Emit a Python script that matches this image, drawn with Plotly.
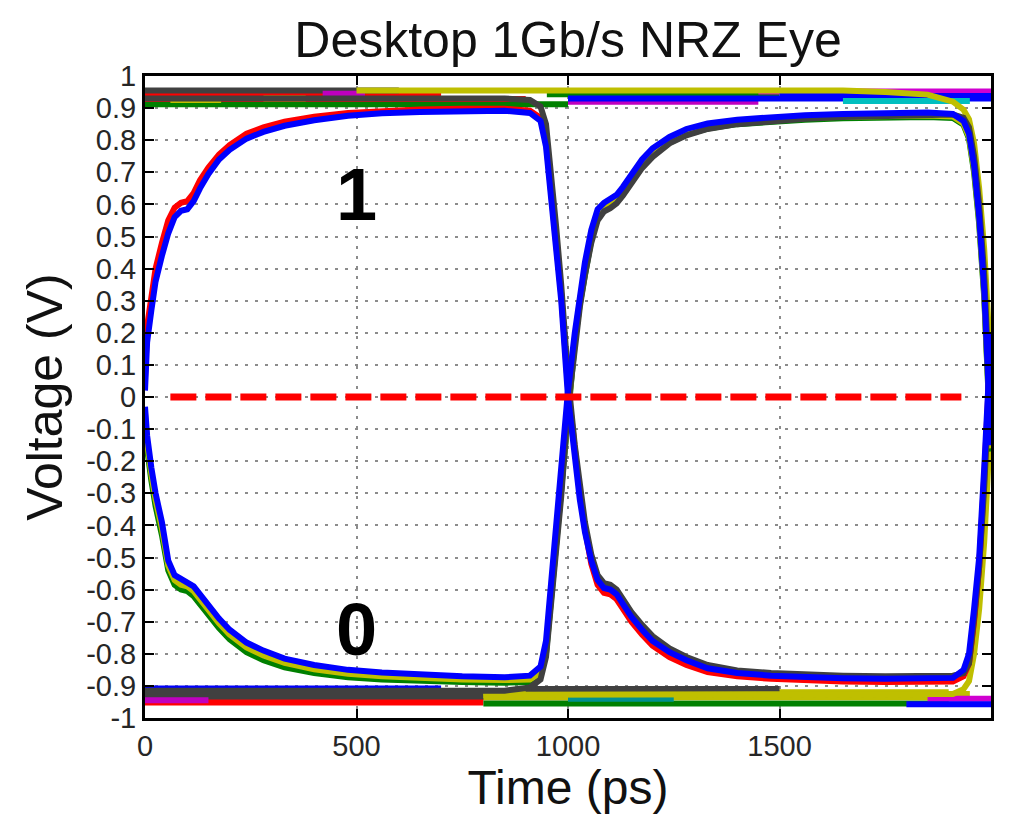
import plotly.graph_objects as go

# ---------------------------------------------------------------
# Eye-diagram data: time in ps (two unit intervals), voltage in V
# ---------------------------------------------------------------
time_ps = [0, 5, 15, 25, 40, 55, 70, 85, 100, 115,
           130, 150, 175, 200, 240, 280, 330, 400, 480, 560,
           650, 750, 850, 910, 935, 948, 960, 972, 984, 1000,
           1016, 1028, 1040, 1055, 1070, 1085, 1100, 1115, 1130, 1150,
           1175, 1200, 1240, 1280, 1330, 1400, 1480, 1560, 1650, 1750,
           1850, 1910, 1935, 1948, 1960, 1972, 1984, 2000]

# 0 -> 1 -> 0 -> 1 pattern (upper-left eye, lower-right eye)
rfr_main_v = [0.02, 0.17, 0.27, 0.36, 0.44, 0.51, 0.56, 0.58, 0.585, 0.61,
              0.65, 0.695, 0.74, 0.77, 0.805, 0.826, 0.845, 0.862, 0.876, 0.884,
              0.888, 0.89, 0.892, 0.885, 0.86, 0.78, 0.62, 0.45, 0.30, 0.0,
              -0.2, -0.32, -0.42, -0.51, -0.57, -0.595, -0.6, -0.615, -0.645, -0.685,
              -0.725, -0.76, -0.795, -0.82, -0.845, -0.86, -0.868, -0.873, -0.876, -0.878,
              -0.879, -0.875, -0.85, -0.80, -0.66, -0.50, -0.22, 0.2]
rfr_outer_v = [0.06, 0.22, 0.31, 0.40, 0.48, 0.55, 0.59, 0.605, 0.61, 0.635,
               0.675, 0.715, 0.755, 0.785, 0.82, 0.84, 0.858, 0.873, 0.885, 0.892,
               0.896, 0.898, 0.898, 0.892, 0.87, 0.80, 0.64, 0.47, 0.32, 0.03,
               -0.17, -0.30, -0.41, -0.52, -0.585, -0.61, -0.615, -0.63, -0.66, -0.70,
               -0.74, -0.775, -0.81, -0.835, -0.857, -0.87, -0.878, -0.883, -0.886, -0.888,
               -0.889, -0.886, -0.87, -0.83, -0.70, -0.53, -0.25, 0.18]

# 1 -> 0 -> 1 -> 0 pattern (lower-left eye, upper-right eye)
frf_main_v = [-0.03, -0.12, -0.22, -0.30, -0.39, -0.51, -0.555, -0.565, -0.575, -0.59,
              -0.615, -0.65, -0.69, -0.725, -0.765, -0.79, -0.815, -0.835, -0.85, -0.858,
              -0.865, -0.87, -0.873, -0.868, -0.84, -0.76, -0.58, -0.40, -0.25, 0.02,
              0.2, 0.32, 0.42, 0.52, 0.585, 0.605, 0.615, 0.63, 0.655, 0.69,
              0.74, 0.775, 0.81, 0.835, 0.852, 0.864, 0.872, 0.878, 0.882, 0.885,
              0.886, 0.882, 0.86, 0.82, 0.72, 0.56, 0.33, -0.15]
frf_mid_v = [-0.05, -0.14, -0.24, -0.32, -0.41, -0.525, -0.57, -0.585, -0.59, -0.605,
             -0.63, -0.665, -0.705, -0.74, -0.78, -0.805, -0.828, -0.848, -0.862, -0.87,
             -0.876, -0.88, -0.882, -0.88, -0.86, -0.79, -0.62, -0.44, -0.29, -0.01,
             0.18, 0.30, 0.40, 0.50, 0.57, 0.593, 0.603, 0.618, 0.643, 0.678,
             0.728, 0.763, 0.8, 0.825, 0.842, 0.855, 0.863, 0.869, 0.873, 0.876,
             0.877, 0.874, 0.852, 0.81, 0.71, 0.55, 0.32, -0.16]
frf_outer_v = [-0.07, -0.16, -0.26, -0.34, -0.43, -0.54, -0.585, -0.60, -0.605, -0.62,
               -0.645, -0.68, -0.72, -0.755, -0.795, -0.82, -0.842, -0.86, -0.873, -0.88,
               -0.885, -0.888, -0.89, -0.888, -0.87, -0.80, -0.63, -0.45, -0.30, -0.02,
               0.17, 0.29, 0.39, 0.49, 0.56, 0.585, 0.595, 0.61, 0.635, 0.67,
               0.72, 0.755, 0.792, 0.818, 0.836, 0.85, 0.858, 0.864, 0.868, 0.871,
               0.872, 0.869, 0.848, 0.805, 0.70, 0.54, 0.31, -0.17]

# Runs leaving a long steady level at the 1000 ps transition
edge_t = [0, 850, 910, 935, 948, 960, 972, 984, 1000, 1016,
          1028, 1040, 1055, 1070, 1085, 1100, 1115, 1130, 1150, 1175,
          1200, 1240, 1280, 1330, 1400, 1480, 1560, 1650, 1750, 1850,
          1910, 1935, 1948, 1960, 1972, 1984, 2000]
steady_high_fall_v = [0.93, 0.93, 0.925, 0.905, 0.85, 0.71, 0.53, 0.35, 0.06, -0.15,
                      -0.28, -0.39, -0.49, -0.555, -0.58, -0.585, -0.60, -0.63, -0.67, -0.71,
                      -0.745, -0.783, -0.81, -0.835, -0.852, -0.86, -0.865, -0.868, -0.87, -0.871,
                      -0.868, -0.86, -0.83, -0.69, -0.53, -0.28, 0.15]
steady_low_rise_v = [-0.915, -0.915, -0.905, -0.88, -0.81, -0.65, -0.47, -0.31, -0.03, 0.16,
                     0.28, 0.38, 0.48, 0.55, 0.578, 0.588, 0.603, 0.628, 0.663, 0.713,
                     0.748, 0.79, 0.815, 0.835, 0.85, 0.86, 0.867, 0.872, 0.876, 0.879,
                     0.88, 0.87, 0.84, 0.75, 0.60, 0.38, -0.1]

# Long runs that only switch at the 2000 ps transition
late_fall_t = [500, 1650, 1750, 1850, 1910, 1935, 1948, 1960, 1972, 1984, 2000]
late_fall_v = [0.955, 0.955, 0.95, 0.942, 0.92, 0.895, 0.865, 0.79, 0.65, 0.46, 0.08]
late_rise_t = [800, 1850, 1910, 1935, 1948, 1960, 1972, 1984, 2000]
late_rise_v = [-0.928, -0.928, -0.925, -0.91, -0.885, -0.8, -0.66, -0.45, -0.05]

# Steady "1" / "0" rails
rail_start_ps = [0, 0, 0, 0, 950, 1000, 1000, 1450, 1500, 1650, 60, 280, 420,
                 0, 0, 0, 0, 0, 800, 800, 800, 1000, 900, 1650, 1850, 1800]
rail_end_ps = [1000, 900, 700, 600, 1500, 1450, 2000, 2000, 2000, 1950, 180, 380, 520,
               700, 1000, 1000, 800, 150, 1900, 1900, 1900, 1250, 1500, 1950, 2000, 2000]
rail_level_v = [0.912, 0.928, 0.94, 0.955, 0.943, 0.92, 0.93, 0.952, 0.938, 0.922, 0.925, 0.93, 0.945,
                -0.908, -0.922, -0.935, -0.952, -0.945, -0.955, -0.92, -0.935, -0.94, -0.91,
                -0.925, -0.94, -0.957]
rail_colors = ["#008000", "#ff0000", "#ff0000", "#404040", "#008000", "#bf00bf", "#0000ff",
               "#d000d0", "#0000ff", "#00bfbf", "#bfbf00", "#bfbf00", "#bf00bf",
               "#0000ff", "#404040", "#404040", "#ff0000", "#bf00bf", "#008000", "#bfbf00",
               "#bfbf00", "#009090", "#404040", "#bfbf00", "#d000d0", "#0000ff"]

# Decision threshold
threshold_v = 0.0
threshold_span_ps = [60, 1930]

# Axis ticks
x_ticks = [0, 500, 1000, 1500, 2000]
y_ticks = [1, 0.9, 0.8, 0.7, 0.6, 0.5, 0.4, 0.3, 0.2, 0.1, 0,
           -0.1, -0.2, -0.3, -0.4, -0.5, -0.6, -0.7, -0.8, -0.9, -1]
y_tick_labels = ["1", "0.9", "0.8", "0.7", "0.6", "0.5", "0.4", "0.3", "0.2", "0.1", "0",
                 "-0.1", "-0.2", "-0.3", "-0.4", "-0.5", "-0.6", "-0.7", "-0.8", "-0.9", "-1"]

BLUE, RED, GREEN, YELLOW, DARK = "#0000ff", "#ff0000", "#008000", "#bfbf00", "#404040"
FONT = "Liberation Sans, Arial, sans-serif"

fig = go.Figure()


def add_line(x, y, color, width):
    fig.add_trace(go.Scatter(x=x, y=y, mode="lines",
                             line=dict(color=color, width=width),
                             hoverinfo="skip", showlegend=False))


for t0, t1, v, c in zip(rail_start_ps, rail_end_ps, rail_level_v, rail_colors):
    add_line([t0, t1], [v, v], c, 6)

add_line(late_fall_t, late_fall_v, YELLOW, 6)
add_line(late_rise_t, late_rise_v, YELLOW, 6)
add_line(time_ps, frf_outer_v, GREEN, 6)
add_line(time_ps, frf_mid_v, YELLOW, 6)
add_line(time_ps, rfr_outer_v, RED, 6)
add_line(edge_t, steady_high_fall_v, DARK, 6)
add_line(edge_t, steady_low_rise_v, DARK, 6)
add_line(time_ps, rfr_main_v, BLUE, 6)
add_line(time_ps, frf_main_v, BLUE, 6)

fig.add_trace(go.Scatter(x=threshold_span_ps, y=[threshold_v, threshold_v], mode="lines",
                         line=dict(color="#ff0000", width=7, dash="26px,9px"),
                         hoverinfo="skip", showlegend=False))

fig.add_annotation(x=500, y=0.63, text="<b>1</b>", showarrow=False,
                   font=dict(family=FONT, size=74, color="#000000"))
fig.add_annotation(x=500, y=-0.725, text="<b>0</b>", showarrow=False,
                   font=dict(family=FONT, size=74, color="#000000"))

axis_common = dict(showline=True, linewidth=3, linecolor="#000000", mirror="ticks",
                   ticks="inside", ticklen=9, tickwidth=2, tickcolor="#000000",
                   showgrid=True, gridcolor="#8c8c8c", gridwidth=2, griddash="3px,7px",
                   zeroline=False, automargin=False,
                   tickfont=dict(family=FONT, size=29, color="#262626"))

fig.update_xaxes(range=[0, 2000], tickvals=x_ticks,
                 title=dict(text="Time (ps)", standoff=12,
                            font=dict(family=FONT, size=48, color="#111111")),
                 **axis_common)
fig.update_yaxes(range=[-1, 1], tickvals=y_ticks, ticktext=y_tick_labels,
                 title=dict(text="Voltage (V)", standoff=8,
                            font=dict(family=FONT, size=50, color="#111111")),
                 **axis_common)

fig.update_layout(
    width=1020, height=814,
    margin=dict(l=145, r=29, t=76, b=96, autoexpand=False),
    paper_bgcolor="#ffffff", plot_bgcolor="#ffffff",
    title=dict(text="Desktop 1Gb/s NRZ Eye", x=0.5, xref="paper",
               y=0.951, yref="container", yanchor="middle",
               font=dict(family=FONT, size=50, color="#111111")),
)

fig.write_html("out.html")
